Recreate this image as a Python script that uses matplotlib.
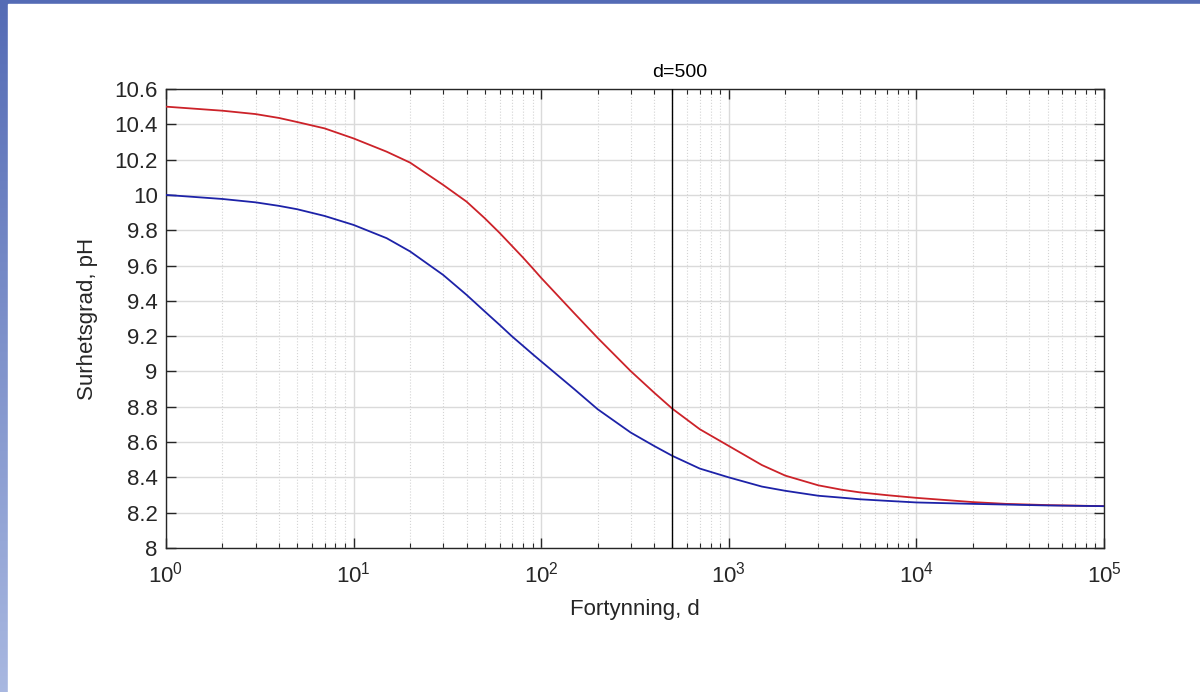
import numpy as np
import matplotlib.pyplot as plt
from matplotlib.patches import Rectangle
from matplotlib.ticker import LogLocator, FixedLocator, FuncFormatter

plt.rcParams['font.family'] = ['Liberation Sans', 'DejaVu Sans']
plt.rcParams['mathtext.fontset'] = 'custom'
plt.rcParams['mathtext.rm'] = 'Liberation Sans'
plt.rcParams['mathtext.it'] = 'Liberation Sans'

# Data
fortynning = [1, 2, 3, 4, 5, 7, 10, 15, 20, 30,
              40, 50, 60, 70, 80, 90, 100, 150, 200, 300,
              400, 500, 700, 1000, 1500, 2000, 3000, 4000, 5000, 7000,
              1e4, 2e4, 3e4, 5e4, 1e5]
ph_rod = [10.50, 10.477, 10.458, 10.436, 10.413, 10.377, 10.32, 10.245, 10.183, 10.057,
          9.962, 9.868, 9.785, 9.71, 9.645, 9.585, 9.53, 9.33, 9.19, 9.002,
          8.88, 8.789, 8.673, 8.578, 8.47, 8.41, 8.355, 8.33, 8.315, 8.299,
          8.284, 8.26, 8.25, 8.243, 8.237]
ph_bla = [10.00, 9.977, 9.958, 9.938, 9.919, 9.881, 9.83, 9.755, 9.68, 9.547,
          9.434, 9.34, 9.264, 9.198, 9.145, 9.098, 9.057, 8.90, 8.786, 8.654,
          8.578, 8.522, 8.45, 8.40, 8.348, 8.324, 8.296, 8.285, 8.276, 8.267,
          8.258, 8.25, 8.246, 8.241, 8.237]
d_markering = 500
y_ticks = [8, 8.2, 8.4, 8.6, 8.8, 9, 9.2, 9.4, 9.6, 9.8, 10, 10.2, 10.4, 10.6]

W, H = 1200, 692
fig = plt.figure(figsize=(12, 6.92), dpi=100)

# fond de la diapo : bande bleue en haut et a gauche
bg = fig.add_axes([0, 0, 1, 1])
grad = np.linspace(0, 1, 256).reshape(-1, 1)
top_col = np.array([0.33, 0.42, 0.71])
bot_col = np.array([0.66, 0.72, 0.88])
img = top_col + (bot_col - top_col) * grad[:, :, None]
bg.imshow(img, aspect='auto', extent=[0, 1, 0, 1], origin='upper')
bg.add_patch(Rectangle((8 / W, 0), 1, 1 - 4 / H, color='white', zorder=2))
bg.set_xlim(0, 1)
bg.set_ylim(0, 1)
bg.axis('off')

ax = fig.add_axes([166 / W, 1 - 548 / H, (1104 - 166) / W, (548 - 89) / H])
ax.set_facecolor('white')

ax.semilogx(fortynning, ph_rod, color='#cc2229', lw=1.3, zorder=3, solid_joinstyle='round')
ax.semilogx(fortynning, ph_bla, color='#1d22a8', lw=1.3, zorder=3, solid_joinstyle='round')
ax.axvline(d_markering, color='black', lw=1.0, zorder=4)

ax.set_xlim(1, 1e5)
ax.set_ylim(8, 10.6)
ax.yaxis.set_major_locator(FixedLocator(y_ticks))
ax.yaxis.set_major_formatter(FuncFormatter(lambda v, p: '%g' % round(v, 1)))
ax.xaxis.set_major_locator(LogLocator(base=10, numticks=10))
ax.xaxis.set_minor_locator(LogLocator(base=10, subs=np.arange(2, 10), numticks=20))

ax.grid(True, which='major', color='#dadada', lw=1.0, ls='-')
ax.grid(True, which='minor', axis='x', color='#d4d4d4', lw=0.8, ls=':')
ax.set_axisbelow(True)

for s in ax.spines.values():
    s.set_color('#262626')
    s.set_linewidth(1.0)
ax.tick_params(which='both', direction='in', top=True, right=True, colors='#262626',
               labelcolor='#262626', labelsize=16)
ax.tick_params(which='major', length=7, width=1.0)
ax.tick_params(which='minor', length=3.6, width=0.8)
ax.tick_params(axis='y', pad=6)
ax.tick_params(axis='x', pad=10)

ax.set_xlabel('Fortynning, d', fontsize=16, color='#262626', labelpad=8)
ax.set_ylabel('Surhetsgrad, pH', fontsize=16, color='#262626', labelpad=12)

ax.text(549, 1.018, 'd=%d' % d_markering, transform=ax.get_xaxis_transform(),
        ha='center', va='bottom', fontsize=14, color='black')

fig.savefig('out.png', dpi=100)
